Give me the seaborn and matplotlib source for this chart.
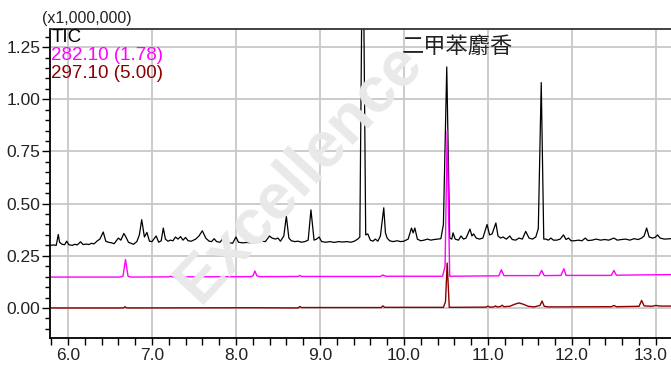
import numpy as np
import pandas as pd
import matplotlib
matplotlib.use("Agg")
import matplotlib.pyplot as plt
import matplotlib.transforms as mtransforms
from matplotlib.ticker import MultipleLocator, FormatStrFormatter
import seaborn as sns

# ---- data (retention time in min, intensity x1,000,000) ----
tic_t = [5.79, 5.83, 5.86, 5.885, 5.90, 5.93, 5.96, 5.985, 6.01, 6.05, 6.08, 6.11, 6.15, 6.18, 6.22,
         6.25, 6.28, 6.31, 6.35, 6.38, 6.42, 6.45, 6.48, 6.52, 6.55, 6.60, 6.63, 6.665, 6.69, 6.72,
         6.75, 6.78, 6.82, 6.85, 6.878, 6.91, 6.94, 6.97, 7.00, 7.05, 7.08, 7.11, 7.135, 7.16, 7.19,
         7.22, 7.25, 7.28, 7.31, 7.34, 7.37, 7.40, 7.43, 7.47, 7.52, 7.56, 7.60, 7.64, 7.68, 7.71,
         7.74, 7.77, 7.81, 7.84, 7.87, 7.92, 7.96, 8.00, 8.03, 8.08, 8.13, 8.18, 8.22, 8.27, 8.31,
         8.35, 8.40, 8.43, 8.47, 8.50, 8.53, 8.57, 8.60, 8.63, 8.66, 8.70, 8.74, 8.78, 8.82, 8.86,
         8.893, 8.93, 8.96, 8.99, 9.02, 9.07, 9.12, 9.17, 9.22, 9.27, 9.32, 9.37, 9.41, 9.45, 9.475,
         9.51, 9.545, 9.57, 9.60, 9.63, 9.66, 9.69, 9.72, 9.76, 9.78, 9.80, 9.83, 9.87, 9.92, 9.96,
         10.00, 10.05, 10.09, 10.11, 10.13, 10.16, 10.20, 10.24, 10.28, 10.32, 10.36, 10.40, 10.44,
         10.47, 10.51, 10.545, 10.57, 10.585, 10.61, 10.65, 10.68, 10.71, 10.74, 10.786, 10.81,
         10.83, 10.86, 10.90, 10.94, 10.99, 11.02, 11.05, 11.095, 11.12, 11.15, 11.18, 11.22, 11.26,
         11.29, 11.33, 11.37, 11.41, 11.45, 11.49, 11.53, 11.57, 11.60, 11.635, 11.665, 11.69, 11.72,
         11.75, 11.78, 11.82, 11.86, 11.90, 11.93, 11.96, 11.99, 12.03, 12.08, 12.12, 12.16, 12.19,
         12.24, 12.29, 12.34, 12.39, 12.44, 12.50, 12.54, 12.59, 12.64, 12.69, 12.74, 12.79, 12.83,
         12.86, 12.89, 12.92, 12.96, 12.99, 13.02, 13.05, 13.10, 13.18]
tic_v = [0.300, 0.302, 0.300, 0.352, 0.315, 0.305, 0.303, 0.320, 0.303, 0.300, 0.305, 0.302, 0.317,
         0.304, 0.306, 0.304, 0.310, 0.307, 0.322, 0.330, 0.364, 0.320, 0.315, 0.312, 0.308, 0.335,
         0.325, 0.357, 0.340, 0.315, 0.310, 0.305, 0.318, 0.350, 0.423, 0.340, 0.362, 0.320, 0.318,
         0.345, 0.315, 0.322, 0.383, 0.330, 0.320, 0.325, 0.322, 0.340, 0.330, 0.342, 0.325, 0.338,
         0.322, 0.320, 0.330, 0.345, 0.370, 0.335, 0.320, 0.318, 0.332, 0.318, 0.315, 0.330, 0.315,
         0.312, 0.310, 0.340, 0.315, 0.312, 0.314, 0.312, 0.318, 0.316, 0.320, 0.318, 0.345, 0.335,
         0.330, 0.335, 0.320, 0.345, 0.440, 0.335, 0.322, 0.318, 0.320, 0.315, 0.318, 0.325, 0.470,
         0.325, 0.330, 0.340, 0.318, 0.315, 0.318, 0.314, 0.318, 0.316, 0.318, 0.315, 0.320, 0.330,
         0.340, 2.000, 0.350, 0.355, 0.325, 0.320, 0.330, 0.320, 0.345, 0.480, 0.360, 0.335, 0.322,
         0.318, 0.322, 0.318, 0.320, 0.330, 0.383, 0.360, 0.383, 0.330, 0.322, 0.325, 0.330, 0.325,
         0.328, 0.330, 0.332, 0.400, 1.155, 0.335, 0.330, 0.360, 0.330, 0.325, 0.345, 0.330, 0.335,
         0.378, 0.345, 0.355, 0.335, 0.330, 0.335, 0.400, 0.350, 0.355, 0.407, 0.345, 0.335, 0.340,
         0.330, 0.345, 0.328, 0.325, 0.335, 0.330, 0.367, 0.335, 0.330, 0.340, 0.380, 1.080, 0.330,
         0.330, 0.325, 0.335, 0.325, 0.325, 0.330, 0.350, 0.328, 0.335, 0.322, 0.322, 0.325, 0.322,
         0.335, 0.323, 0.325, 0.330, 0.325, 0.328, 0.325, 0.335, 0.325, 0.328, 0.330, 0.325, 0.332,
         0.328, 0.335, 0.345, 0.383, 0.340, 0.335, 0.338, 0.350, 0.335, 0.330, 0.332]

m282_t = [5.79, 6.62, 6.655, 6.685, 6.715, 6.75, 7.20, 7.22, 7.24, 8.18, 8.205, 8.225, 8.25, 8.28,
          8.74, 8.76, 8.78, 9.72, 9.75, 9.78, 10.46, 10.49, 10.515, 10.545, 11.13, 11.16, 11.19,
          11.61, 11.64, 11.67, 11.87, 11.905, 11.93, 12.47, 12.50, 12.53, 13.18]
m282_v = [0.148, 0.148, 0.152, 0.232, 0.152, 0.148, 0.149, 0.152, 0.149, 0.150, 0.155, 0.177, 0.154,
          0.150, 0.151, 0.156, 0.151, 0.151, 0.158, 0.152, 0.152, 0.200, 0.850, 0.152, 0.154, 0.183,
          0.155, 0.155, 0.180, 0.155, 0.156, 0.188, 0.156, 0.156, 0.180, 0.157, 0.160]

m297_t = [5.79, 6.66, 6.68, 6.70, 8.22, 8.74, 8.76, 8.78, 9.73, 9.75, 9.77, 10.47, 10.495, 10.515,
          10.54, 10.98, 11.00, 11.02, 11.07, 11.09, 11.11, 11.15, 11.17, 11.19, 11.26, 11.32, 11.37,
          11.42, 11.48, 11.55, 11.62, 11.645, 11.67, 11.72, 12.47, 12.50, 12.53, 12.80, 12.83, 12.86,
          12.95, 13.00, 13.05, 13.18]
m297_v = [0.000, 0.000, 0.006, 0.000, 0.001, 0.000, 0.007, 0.002, 0.002, 0.010, 0.003, 0.003, 0.030,
          0.215, 0.003, 0.004, 0.009, 0.004, 0.005, 0.010, 0.005, 0.007, 0.013, 0.006, 0.008, 0.018,
          0.024, 0.018, 0.008, 0.005, 0.012, 0.033, 0.008, 0.005, 0.006, 0.012, 0.006, 0.008, 0.036,
          0.010, 0.008, 0.012, 0.009, 0.009]

trace_labels = ["TIC", "282.10 (1.78)", "297.10 (5.00)"]
trace_colors = ["#000000", "#ff00ff", "#8b0000"]
annotation = "二甲苯麝香"
scale_label = "(x1,000,000)"
watermark = "Excellence"
x_ticks = [6.0, 7.0, 8.0, 9.0, 10.0, 11.0, 12.0, 13.0]
y_ticks = [0.00, 0.25, 0.50, 0.75, 1.00, 1.25]

# ---- plotting ----
sns.set_theme(style="white")
plt.rcParams["font.family"] = ["Liberation Sans", "DejaVu Sans"]

fig = plt.figure(figsize=(6.71, 3.65), dpi=100)
fig.patch.set_facecolor("white")

# faint watermark
fig.text(300 / 671, 1 - 172 / 365, watermark, fontsize=46, fontweight="bold", color="#e9e9e9",
         rotation=47, rotation_mode="anchor", ha="center", va="center", zorder=0)

ax = fig.add_axes([50 / 671, 27 / 365, 1 - 50 / 671, (338 - 29) / 365])
ax.set_facecolor("none")

frames = [pd.DataFrame({"t": tic_t, "v": tic_v}),
          pd.DataFrame({"t": m282_t, "v": m282_v}),
          pd.DataFrame({"t": m297_t, "v": m297_v})]
widths = [0.9, 1.0, 1.0]
for df, c, lw in zip(frames, trace_colors, widths):
    sns.lineplot(data=df, x="t", y="v", color=c, lw=lw, ax=ax, estimator=None, sort=False)

ax.set_xlim(5.786, 13.18)
ax.set_ylim(-0.144, 1.337)
ax.set_xlabel("")
ax.set_ylabel("")

ax.set_xticks(x_ticks)
ax.set_yticks(y_ticks)
ax.xaxis.set_major_formatter(FormatStrFormatter("%.1f"))
ax.yaxis.set_major_formatter(FormatStrFormatter("%.2f"))
ax.xaxis.set_minor_locator(MultipleLocator(0.2))
ax.yaxis.set_minor_locator(MultipleLocator(0.05))
ax.tick_params(axis="both", which="both", direction="out", color="black", labelsize=12.5,
               labelcolor="#222222")
ax.tick_params(axis="y", which="major", length=6, width=1, left=True, pad=1)
ax.tick_params(axis="y", which="minor", length=3.5, width=1, left=True)
ax.tick_params(axis="x", which="major", length=5, width=1, bottom=True, pad=2)
ax.tick_params(axis="x", which="minor", length=5, width=1, bottom=True)

# keep the last x tick label inside the picture
last_lab = ax.get_xticklabels()[-1]
last_lab.set_transform(last_lab.get_transform() +
                       mtransforms.ScaledTranslation(-5 / 100, 0, fig.dpi_scale_trans))

ax.grid(True, which="major", color="#c8c8c8", lw=1.3)
ax.set_axisbelow(True)
for s in ["left", "bottom"]:
    ax.spines[s].set_color("black")
    ax.spines[s].set_linewidth(1.3)
ax.spines["top"].set_color("#333333")
ax.spines["top"].set_linewidth(1.3)
ax.spines["right"].set_visible(False)

# trace labels
for i, (lab, c) in enumerate(zip(trace_labels, trace_colors)):
    ax.text(0.002, 1 - (9 + 17.5 * i) / 309, lab, transform=ax.transAxes, color=c,
            fontsize=13.5, ha="left", va="center")

fig.text(42 / 671, 1 - 18 / 365, scale_label, fontsize=11.5, color="#222222",
         ha="left", va="center")

ax.text(10.64, 1.255, annotation, fontsize=16, color="#222222", ha="center", va="center",
        family=["Noto Sans CJK SC", "DejaVu Sans"], fontweight="light")

fig.savefig("out.png", dpi=100)
